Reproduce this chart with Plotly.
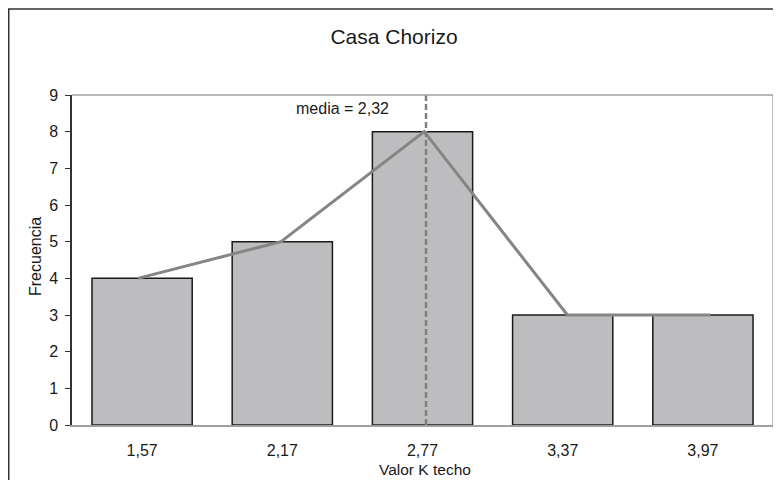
import plotly.graph_objects as go

# Data
categories = ["1,57", "2,17", "2,77", "3,37", "3,97"]
class_values = [1.57, 2.17, 2.77, 3.37, 3.97]
frequencies = [4, 5, 8, 3, 3]
mean_label = "media = 2,32"
mean_line_pos = 2.7775
y_ticks = list(range(0, 10))

FONT = "Liberation Sans, Arial, sans-serif"

# page offset compensation (browser body margin of 8px)
OFF = 8
W, H = 781 - OFF, 480 - OFF
PL, PR, PT, PB = 72, 773, 95, 425   # plot area in page pixels
PW, PH = PR - PL, PB - PT


def px(x):
    return (x - PL) / PW


def py(y):
    return (PB - y) / PH


fig = go.Figure()

fig.add_trace(go.Bar(
    x=categories, y=frequencies,
    marker=dict(color="#bdbdbf", line=dict(color="#1a1a1a", width=1.5)),
    showlegend=False, hoverinfo="skip",
))

fig.add_trace(go.Scatter(
    x=class_values, y=frequencies, xaxis="x2", mode="lines",
    line=dict(color="#858585", width=3),
    showlegend=False, hoverinfo="skip",
))

fig.add_trace(go.Scatter(
    x=[mean_line_pos, mean_line_pos], y=[0, 9.35], xaxis="x2", mode="lines",
    line=dict(color="#7f7f7f", width=2.5, dash="6px,3px"),
    showlegend=False, hoverinfo="skip", cliponaxis=False,
))

fig.update_layout(
    width=W, height=H,
    margin=dict(l=PL - OFF, r=781 - PR, t=PT - OFF, b=480 - PB),
    paper_bgcolor="white", plot_bgcolor="white",
    font=dict(family=FONT, color="#1a1a1a", size=16),
    title=dict(text="Casa Chorizo", x=px(394), xanchor="center", xref="paper",
               y=1 - (37 - OFF) / H, yanchor="middle", yref="container",
               font=dict(size=21, family=FONT, color="#1a1a1a")),
    bargap=0.285,
    xaxis=dict(type="category", showgrid=False, zeroline=False,
               showline=True, linecolor="#a0a0a0", linewidth=1.5,
               mirror=False, ticks="outside", ticklen=10,
               tickcolor="rgba(0,0,0,0)", tickfont=dict(size=16),
               range=[-0.5, 4.5]),
    xaxis2=dict(overlaying="x", range=[1.2943, 4.2314], visible=False,
                showgrid=False, zeroline=False),
    yaxis=dict(range=[0, 9], tickvals=y_ticks, showgrid=False, zeroline=False,
               showline=True, linecolor="#333333", linewidth=1.5,
               ticks="outside", ticklen=5, tickcolor="#333333", tickwidth=1.2,
               tickfont=dict(size=16), ticklabelstandoff=4),
    shapes=[
        dict(type="line", xref="paper", yref="paper", x0=0, x1=1, y0=1, y1=1,
             line=dict(color="#a0a0a0", width=1.5)),
        dict(type="line", xref="paper", yref="paper", x0=1, x1=1, y0=0, y1=1,
             line=dict(color="#a0a0a0", width=1.5)),
        dict(type="rect", xref="paper", yref="paper",
             x0=px(OFF + 0.75), x1=1.1, y0=-0.3, y1=py(9),
             line=dict(color="#333333", width=1.5), layer="below"),
    ],
    annotations=[
        dict(text=mean_label, xref="x2", yref="y", x=mean_line_pos,
             y=(PB - 108) / PH * 9,
             xanchor="right", yanchor="middle", xshift=-35, showarrow=False,
             font=dict(size=16)),
        dict(text="Frecuencia", xref="paper", yref="paper",
             x=px(35), y=py(257), textangle=-90,
             xanchor="center", yanchor="middle", showarrow=False,
             font=dict(size=16)),
        dict(text="Valor K techo", xref="paper", yref="paper",
             x=px(425), y=py(469),
             xanchor="center", yanchor="middle", showarrow=False,
             font=dict(size=15.5)),
    ],
)

fig.write_html("out.html")
